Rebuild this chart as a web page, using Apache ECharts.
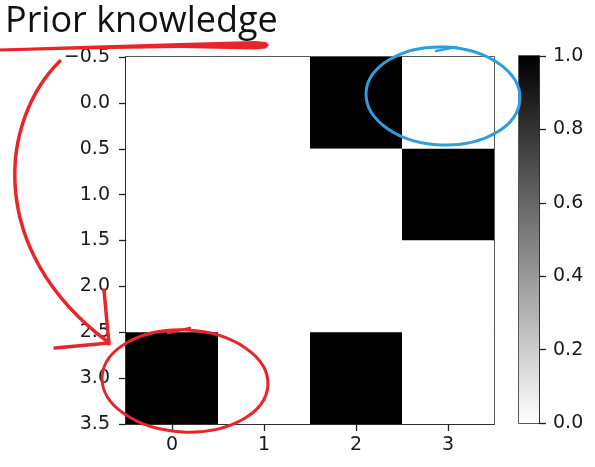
<!DOCTYPE html>
<html><head><meta charset="utf-8">
<script src="https://cdn.jsdelivr.net/npm/echarts@6/dist/echarts.min.js"></script>
<style>html,body{margin:0;padding:0;background:#fff}#c{width:595px;height:467px}</style>
</head><body><div id="c"></div>
<script>
// Data
const titleText = 'Prior knowledge';
const xTicks = [0, 1, 2, 3];
const yTicks = [-0.5, 0, 0.5, 1, 1.5, 2, 2.5, 3, 3.5];
const cbTicks = [0, 0.2, 0.4, 0.6, 0.8, 1.0];
const row0 = [0, 0, 1, 0];
const row1 = [0, 0, 0, 1];
const row2 = [0, 0, 0, 0];
const row3 = [1, 0, 1, 0];
const rows = [row0, row1, row2, row3];

const cells = [];
rows.forEach((r, yi) => r.forEach((v, xi) => cells.push([xi, yi, v])));

const fmt = v => (v < 0 ? '\u2212' + Math.abs(v).toFixed(1) : v.toFixed(1));
const txt = { color: '#1a1a1a', fontFamily: 'DejaVu Sans', fontSize: 19 };
const red = '#e8262a', blue = '#2f9ee0';

const chart = echarts.init(document.getElementById('c'));
chart.setOption({
  animation: false,
  backgroundColor: '#fff',
  grid: [
    { left: 126, top: 57, width: 368, height: 367, show: true, borderColor: '#222', borderWidth: 1.5, backgroundColor: 'transparent' },
    { left: 519, top: 56, width: 20, height: 367, show: true, borderColor: '#222', borderWidth: 1.5, backgroundColor: 'transparent' }
  ],
  xAxis: [
    { gridIndex: 0, type: 'value', min: -0.5, max: 3.5, splitLine: { show: false },
      axisLine: { show: true, onZero: false, lineStyle: { color: '#222', width: 1.5 } },
      axisTick: { show: true, customValues: xTicks, length: 7, lineStyle: { color: '#222', width: 1.3 } },
      axisLabel: { customValues: xTicks, margin: 12, ...txt, formatter: v => String(v) } },
    { gridIndex: 1, type: 'category', data: [''], show: false }
  ],
  yAxis: [
    { gridIndex: 0, type: 'value', inverse: true, min: yTicks[0], max: yTicks[yTicks.length - 1], interval: 0.5, splitLine: { show: false },
      axisLine: { show: true, onZero: false, lineStyle: { color: '#222', width: 1.5 } },
      axisTick: { show: true, length: 7, lineStyle: { color: '#222', width: 1.3 } },
      axisLabel: { margin: 16, ...txt, formatter: fmt } },
    { gridIndex: 1, type: 'value', position: 'right', min: 0, max: 1, interval: 0.2, splitLine: { show: false },
      axisLine: { show: true, lineStyle: { color: '#222', width: 1.5 } },
      axisTick: { show: true, length: 7, lineStyle: { color: '#222', width: 1.3 } },
      axisLabel: { margin: 14, ...txt, formatter: v => v.toFixed(1) } }
  ],
  series: [
    { type: 'custom', xAxisIndex: 0, yAxisIndex: 0, data: cells, z: 1,
      renderItem: (params, api) => {
        const x = api.value(0), y = api.value(1), v = api.value(2);
        const p0 = api.coord([x - 0.5, y - 0.5]);
        const p1 = api.coord([x + 0.5, y + 0.5]);
        const g = Math.round(255 * (1 - v));
        return { type: 'rect',
          shape: { x: Math.min(p0[0], p1[0]), y: Math.min(p0[1], p1[1]), width: Math.abs(p1[0] - p0[0]), height: Math.abs(p1[1] - p0[1]) },
          style: { fill: `rgb(${g},${g},${g})` } };
      } },
    { type: 'bar', xAxisIndex: 1, yAxisIndex: 1, data: [cbTicks[cbTicks.length - 1]], barWidth: '100%', z: 1,
      itemStyle: { color: new echarts.graphic.LinearGradient(0, 0, 0, 1, [{ offset: 0, color: '#000' }, { offset: 1, color: '#fff' }]) } }
  ],
  graphic: [
    { type: 'text', left: 5, top: 4, z: 10, style: { text: titleText, font: '36px "Open Sans"', fill: '#111' } },
    { type: 'polygon', z: 10, shape: { points: [[0, 48.5], [80, 46], [180, 43], [255, 41], [266, 42], [269, 45], [266, 48.5], [255, 49.5], [180, 48], [80, 49.5], [0, 51.5]] }, style: { fill: red } },
    { type: 'bezierCurve', z: 10, shape: { x1: 60, y1: 61, cpx1: 0, cpy1: 120, cpx2: -15, cpy2: 250, x2: 108, y2: 342 }, style: { stroke: red, lineWidth: 3.5, fill: null, lineCap: 'round' } },
    { type: 'line', z: 10, shape: { x1: 104, y1: 290, x2: 109, y2: 344 }, style: { stroke: red, lineWidth: 3.5, lineCap: 'round' } },
    { type: 'line', z: 10, shape: { x1: 55, y1: 348, x2: 109, y2: 343 }, style: { stroke: red, lineWidth: 3.5, lineCap: 'round' } },
    { type: 'ellipse', z: 10, x: 185, y: 381, rotation: -0.05, shape: { cx: 0, cy: 0, rx: 83, ry: 51 }, style: { stroke: red, lineWidth: 3, fill: null } },
    { type: 'line', z: 10, shape: { x1: 168, y1: 333, x2: 190, y2: 328 }, style: { stroke: red, lineWidth: 2.5, lineCap: 'round' } },
    { type: 'ellipse', z: 10, x: 443, y: 96, rotation: -0.04, shape: { cx: 0, cy: 0, rx: 77, ry: 49 }, style: { stroke: blue, lineWidth: 3, fill: null } },
    { type: 'line', z: 10, shape: { x1: 436, y1: 51, x2: 456, y2: 47 }, style: { stroke: blue, lineWidth: 2.5, lineCap: 'round' } }
  ]
});
</script></body></html>
